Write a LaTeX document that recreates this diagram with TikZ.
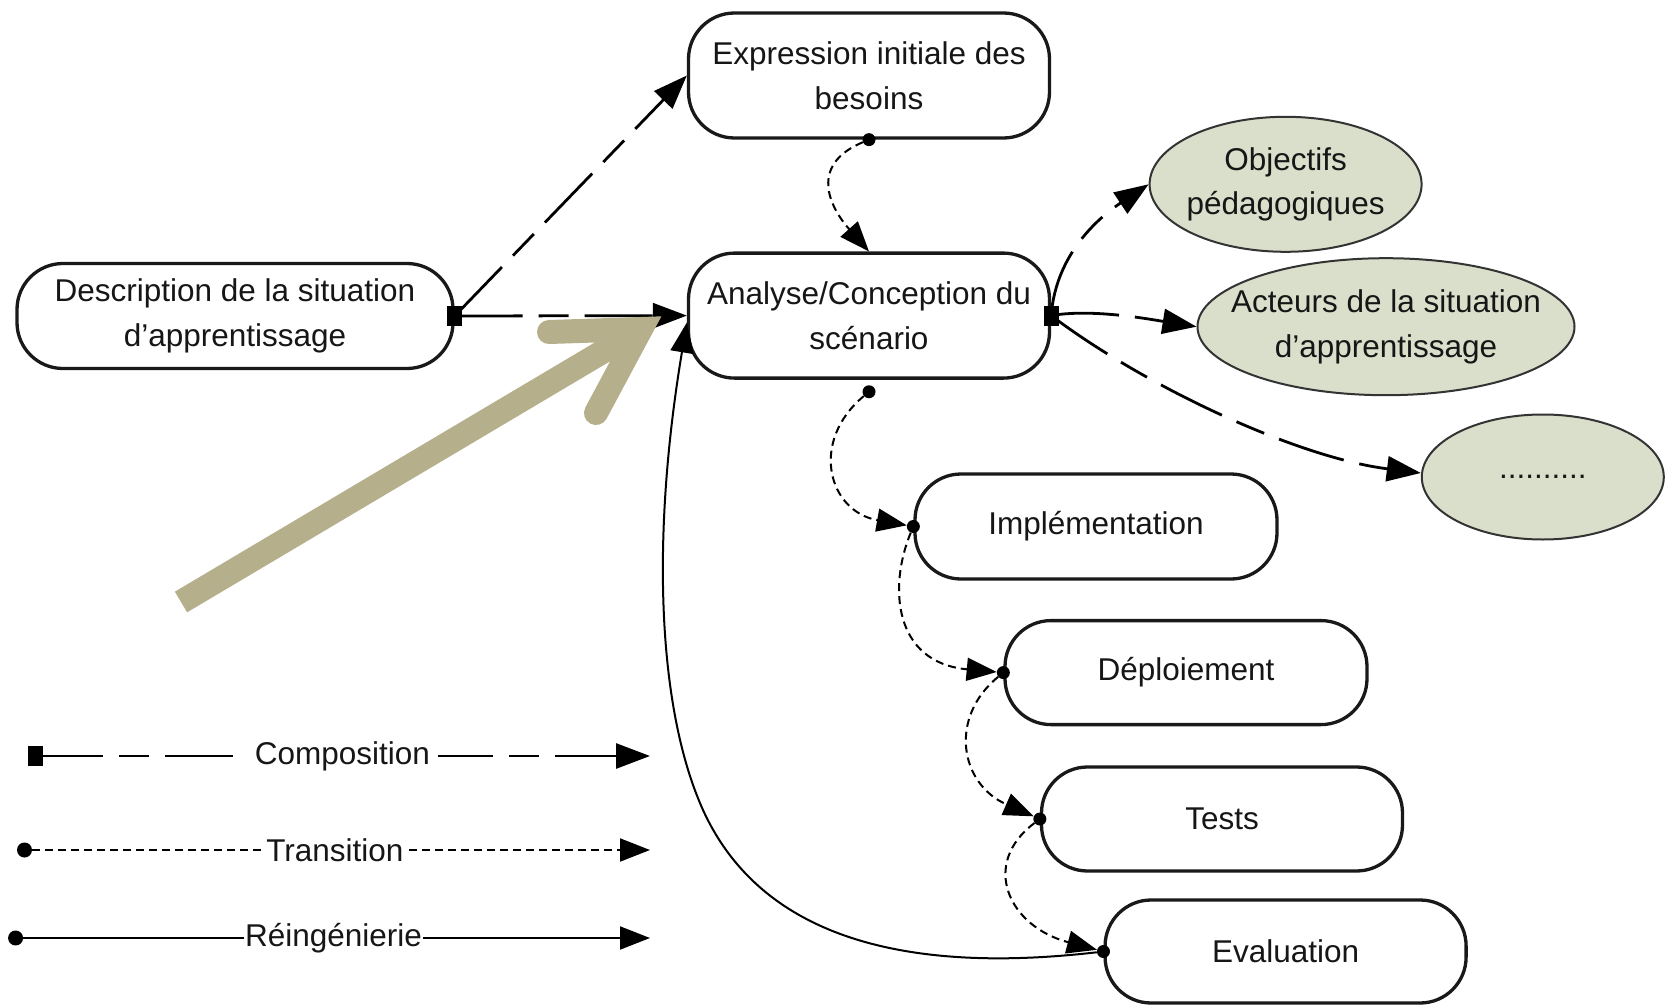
\documentclass[tikz,border=0pt]{standalone}
\usepackage{fontspec}
\setmainfont{Liberation Sans}
\usetikzlibrary{arrows.meta,shapes.geometric}
\definecolor{khaki}{RGB}{181,175,140}
\definecolor{ellfill}{RGB}{217,223,203}
\definecolor{txt}{RGB}{22,22,22}
\begin{document}
\begin{tikzpicture}[x=1pt,y=1pt,
  every node/.style={font=\fontsize{31.5}{44.5}\selectfont, text=txt},
  stadium/.style={draw=black!90, line width=3.3pt, rounded corners=46pt, align=center, inner sep=0pt, fill=white},
  ell/.style={ellipse, draw=black!80, line width=2pt, fill=ellfill, inner sep=0pt},
  elltext/.style={align=center, inner sep=0pt},
  sqm/.style={rectangle, fill=black, minimum width=15pt, minimum height=20pt, inner sep=0pt},
  dotm/.style={circle, fill=black, minimum size=13pt, inner sep=0pt},
  compline/.style={line width=2.8pt, dash pattern=on 68pt off 16pt on 30pt off 16pt, -{Triangle[length=34pt,width=25pt]}},
  transline/.style={line width=2pt, dash pattern=on 8pt off 5pt, -{Triangle[length=30pt,width=23pt]}},
  reline/.style={line width=2pt, -{Triangle[length=30pt,width=23pt]}},
  lbl/.style={fill=white, inner xsep=4pt, inner ysep=0pt},
  bigarrow/.style={draw=khaki, line width=24pt}
]
\fill[white] (0,0) rectangle (1666,-1006);
\useasboundingbox (0,0) rectangle (1666,-1006);

% main nodes
\node[stadium, minimum width=361pt, minimum height=125pt] (exp) at (869,-75.5) {Expression initiale des\\besoins};
\node[stadium, minimum width=436pt, minimum height=105pt] (desc) at (235,-316) {Description de la situation\\d’apprentissage};
\node[stadium, minimum width=361pt, minimum height=125pt] (ana) at (869,-315.6) {Analyse/Conception du\\scénario};
\node[ell, minimum width=272pt, minimum height=135pt] (obj) at (1285.6,-184.3) {};
\node[elltext] (objt) at (obj.center) {Objectifs\\pédagogiques};
\node[ell, minimum width=377pt, minimum height=137pt] (act) at (1386,-326.7) {};
\node[elltext] (actt) at (act.center) {Acteurs de la situation\\d\char"0027apprentissage};
\node[ell, minimum width=242pt, minimum height=125pt] (etc) at (1542.8,-477) {};
\node[elltext] (etct) at (etc.center) {..........};
\node[stadium, minimum width=362pt, minimum height=105pt] (impl) at (1096,-526.5) {Implémentation};
\node[stadium, minimum width=362pt, minimum height=104pt] (dep) at (1186,-672.6) {Déploiement};
\node[stadium, minimum width=361pt, minimum height=104pt] (tests) at (1222,-819) {Tests};
\node[stadium, minimum width=361pt, minimum height=103pt] (eval) at (1285.6,-951.5) {Evaluation};

% markers
\node[sqm] (dsq) at (desc.east) {};
\node[sqm] (asq) at (ana.east) {};
\node[dotm] (edot) at (exp.south) {};
\node[dotm] (adot) at ([yshift=-12pt]ana.south) {};
\node[dotm] (idot) at (impl.west) {};
\node[dotm] (ddot) at (dep.west) {};
\node[dotm] (tdot) at (tests.west) {};
\node[dotm] (vdot) at (eval.west) {};
\coordinate (ret) at ([yshift=-7pt]ana.west);
\coordinate (etcin) at ([yshift=4pt]etc.west);

% composition
\draw[compline] (dsq.center) -- (exp.west);
\draw[compline] (dsq.center) -- (ana.west);
\draw[compline] (asq.center) .. controls +(5,65) and +(-45,-30) .. (obj.west);
\draw[compline] (asq.center) .. controls +(40,7) and +(-50,8) .. (act.west);
\draw[compline] (asq.center) .. controls +(100,-75) and +(-120,15) .. (etcin);

% transitions
\draw[transline] (edot) .. controls +(-60,-25) and +(-40,45) .. (ana.north);
\draw[transline] (adot) .. controls +(-60,-50) and +(-85,15) .. (idot);
\draw[transline] (idot) .. controls +(-25,-60) and +(-110,10) .. (ddot);
\draw[transline] (ddot) .. controls +(-55,-45) and +(-80,35) .. (tdot);
\draw[transline] (tdot) .. controls +(-60,-45) and +(-95,25) .. (vdot);

% reengineering
\draw[reline] (vdot) .. controls (900,-975) and (760,-935) .. (703,-810)
  .. controls (658,-710) and (650.6,-540) .. (ret);

% big khaki arrow
\draw[bigarrow] (181,-602) -- (641,-329);
\draw[bigarrow, line cap=round, line join=miter] (549,-332) -- (641,-329) -- (596,-413);

% legend
\node[sqm] (lsq) at (35,-756) {};
\coordinate (lce) at (650,-756);
\draw[compline] (lsq.center) -- (lce) node[lbl, pos=0.5, inner xsep=8pt] (lc) {Composition};
\node[dotm, minimum size=15pt] (ld1) at (24.5,-850) {};
\coordinate (lte) at (650,-850);
\draw[transline] (ld1) -- (lte) node[lbl, pos=0.49, inner xsep=2pt] (lt) {Transition};
\node[dotm, minimum size=15pt] (ld2) at (15.6,-938) {};
\coordinate (lre) at (650,-938);
\draw[reline] (ld2) -- (lre) node[lbl, pos=0.495, inner xsep=1pt] (lr) {Réingénierie};
\end{tikzpicture}
\end{document}
